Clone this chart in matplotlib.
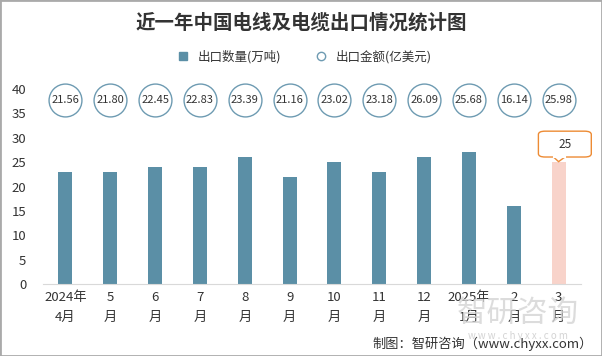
import numpy as np
import matplotlib.pyplot as plt
from matplotlib.lines import Line2D
from matplotlib.patches import FancyBboxPatch, Polygon

plt.rcParams['font.family'] = ['Noto Sans CJK SC', 'DejaVu Sans']

months = ["2024年\n4月", "5\n月", "6\n月", "7\n月", "8\n月", "9\n月", "10\n月",
          "11\n月", "12\n月", "2025年\n1月", "2\n月", "3\n月"]
volume = [23, 23, 24, 24, 26, 22, 25, 23, 26, 27, 16, 25]   # 万吨
amount = [21.56, 21.80, 22.45, 22.83, 23.39, 21.16, 23.02, 23.18,
          26.09, 25.68, 16.14, 25.98]                        # 亿美元
yticks = [0, 5, 10, 15, 20, 25, 30, 35, 40]

bar_color = "#5B8FA6"
last_color = "#F8D3CA"
circle_edge = "#6E9BB2"
callout_edge = "#ED8B34"

fig = plt.figure(figsize=(6.02, 3.56), dpi=100)
ax = fig.add_axes([0.0714, 0.2022, 0.8937, 0.5478])

x = np.arange(len(months))
colors = [bar_color] * (len(months) - 1) + [last_color]
ax.bar(x, volume, width=0.31, color=colors, zorder=2)

# amount circles along top
circ_y = [37.7] * len(amount)
ax.scatter(x, circ_y, s=560, facecolor="white", edgecolor=circle_edge,
           linewidth=1, zorder=3, clip_on=False)
for xi, yi, v in zip(x, circ_y, amount):
    ax.text(xi, yi, "%.2f" % v, ha="center", va="center", fontsize=8,
            color="#333333", zorder=4)

ax.set_xlim(-0.5, len(months) - 0.5)
ax.set_ylim(0, 40)
ax.set_yticks(yticks)
ax.set_xticks(x)
ax.set_xticklabels(months, fontsize=9.5, linespacing=1.7, color="#333333")
ax.tick_params(axis="both", length=0, labelsize=9.5, colors="#333333")
ax.tick_params(axis="y", pad=12)
ax.tick_params(axis="x", pad=5)
for s in ["left", "right", "top"]:
    ax.spines[s].set_visible(False)
ax.spines["bottom"].set_color("#D9D9D9")

# callout on last bar
last = len(volume) - 1
top = volume[last]
box_x0, box_w = last - 0.45, 1.18
box_y0, box_h = top + 1.05, 5.3
box = FancyBboxPatch((box_x0, box_y0), box_w, box_h,
                     boxstyle="round,pad=0,rounding_size=0.15",
                     mutation_aspect=4.5, fc="white", ec=callout_edge,
                     lw=1, zorder=5, clip_on=False)
ax.add_patch(box)
tri = Polygon([[last - 0.12, box_y0 + 0.05], [last + 0.15, box_y0 + 0.05],
               [last, top + 0.1]], closed=True, fc="white", ec=callout_edge,
              lw=1, zorder=4, clip_on=False)
ax.add_patch(tri)
# cover the box edge where the pointer joins
ax.plot([last - 0.11, last + 0.14], [box_y0, box_y0], color="white", lw=1.5,
        zorder=6, clip_on=False)
ax.text(box_x0 + box_w / 2, box_y0 + box_h / 2, str(top), ha="center",
        va="center", fontsize=8.5, color="#333333", zorder=7)

# title and legend
fig.text(0.5, 0.935, "近一年中国电线及电缆出口情况统计图", ha="center", va="center",
         fontsize=14, fontweight="bold", color="#333333")
handles = [Line2D([], [], marker="s", ls="", color=bar_color, markersize=6),
           Line2D([], [], marker="o", ls="", mfc="white", mec=circle_edge, markersize=6)]
fig.legend(handles, ["出口数量(万吨)", "出口金额(亿美元)"], loc="center",
           bbox_to_anchor=(0.5, 0.84), ncol=2, frameon=False, fontsize=9,
           handletextpad=0.2, columnspacing=2.2, labelcolor="#333333")

# watermark and source
fig.text(0.86, 0.12, "智研咨询", ha="center", va="center", fontsize=22,
         color="#D4D4D4", alpha=0.8)
fig.text(0.86, 0.055, "w w w . c h y x x . c o m", ha="center", va="center",
         fontsize=7, color="#D4D4D4")
fig.text(0.985, 0.035, "制图：智研咨询（www.chyxx.com）", ha="right", va="center",
         fontsize=9.5, color="#333333")

fig.patches.append(plt.Rectangle((0, 0), 1, 1, transform=fig.transFigure,
                                 fill=False, ec="#AAAAAA", lw=2))

fig.savefig("out.png", dpi=100)
